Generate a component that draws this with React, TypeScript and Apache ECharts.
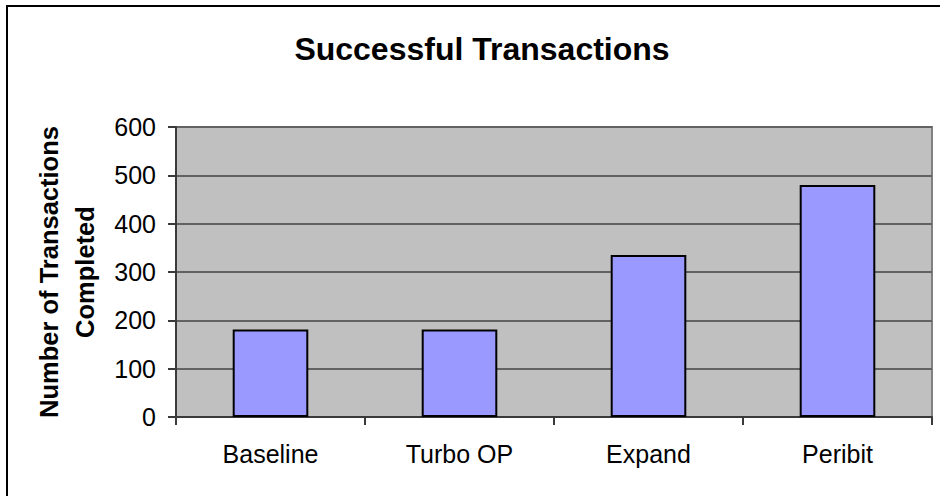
import React, { useEffect, useRef } from "react";
import * as echarts from "echarts";

const categories = ["Baseline", "Turbo OP", "Expand", "Peribit"];
const transactions = [181, 181, 335, 480];
const yTicks = [0, 100, 200, 300, 400, 500, 600];

const FONT = "'Liberation Sans', Arial, sans-serif";

export default function App() {
  const ref = useRef<HTMLDivElement>(null);
  useEffect(() => {
    if (!ref.current) return;
    const chart = echarts.init(ref.current, undefined, { renderer: "svg" });
    chart.setOption({
      animation: false,
      backgroundColor: "#ffffff",
      textStyle: { fontFamily: FONT },
      title: {
        text: "Successful Transactions",
        left: 477,
        top: 28,
        textAlign: "center",
        textStyle: { fontFamily: FONT, fontSize: 32, fontWeight: "bold", color: "#000" },
      },
      graphic: [
        {
          type: "rect",
          shape: { x: 7, y: 6, width: 960, height: 520 },
          style: { fill: "none", stroke: "#000", lineWidth: 2 },
          z: 100,
        },
      ],
      grid: {
        left: 176,
        top: 127,
        right: 8,
        bottom: 79,
        show: true,
        backgroundColor: "#C0C0C0",
        borderColor: "#808080",
        borderWidth: 2,
      },
      xAxis: {
        type: "category",
        data: categories,
        boundaryGap: true,
        axisLine: { show: true, lineStyle: { color: "#3a3a3a", width: 2 } },
        axisTick: { show: true, length: 8, inside: false, lineStyle: { color: "#3a3a3a", width: 2 } },
        axisLabel: { margin: 24, fontFamily: FONT, fontSize: 25, color: "#000" },
        splitLine: { show: false },
      },
      yAxis: {
        type: "value",
        min: yTicks[0],
        max: yTicks[yTicks.length - 1],
        interval: 100,
        name: "Number of Transactions\nCompleted",
        nameLocation: "middle",
        nameRotate: 90,
        nameGap: 73,
        nameTextStyle: { fontFamily: FONT, fontSize: 25.5, fontWeight: "bold", color: "#000", lineHeight: 36 },
        axisLine: { show: true, lineStyle: { color: "#3a3a3a", width: 2 } },
        axisTick: { show: true, length: 8, inside: false, lineStyle: { color: "#3a3a3a", width: 2 } },
        axisLabel: { margin: 20, fontFamily: FONT, fontSize: 25, color: "#000" },
        splitLine: { show: true, lineStyle: { color: "#626262", width: 2 } },
      },
      series: [
        {
          type: "bar",
          data: transactions,
          barWidth: "40%",
          itemStyle: { color: "#9999FF", borderColor: "#000", borderWidth: 2 },
        },
      ],
    });
    return () => chart.dispose();
  }, []);
  return (
    <div
      ref={ref}
      style={{ position: "fixed", left: 0, top: 0, width: 940, height: 496 }}
    />
  );
}
